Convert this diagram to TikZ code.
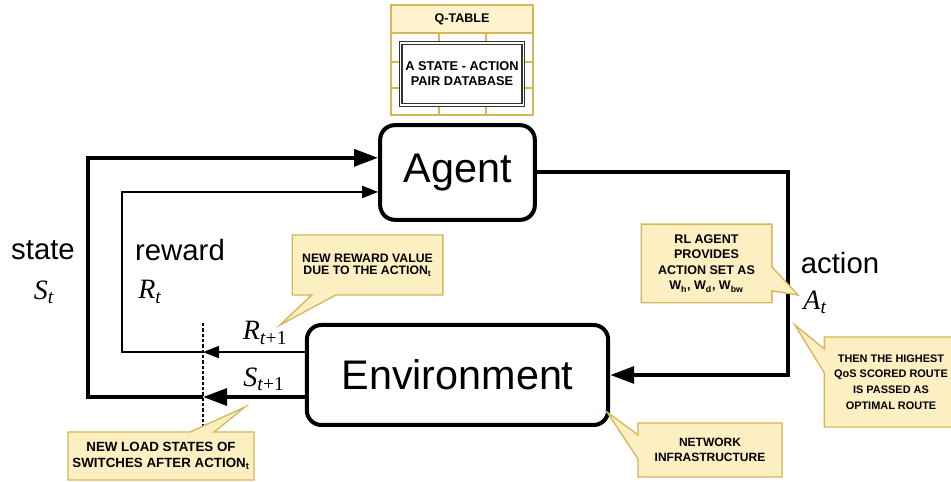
\documentclass[tikz,border=0pt]{standalone}
\usepackage{fontspec}
\setmainfont{Liberation Sans}
\newfontfamily\symfont{Liberation Serif}
\usetikzlibrary{positioning,arrows.meta,shapes.callouts,shadows}

\definecolor{noteyellow}{HTML}{FCEFC2}
\definecolor{noteedge}{HTML}{D6B656}
\definecolor{qfill}{HTML}{FFF2CC}

\tikzset{
  block/.style={draw, line width=3pt, rounded corners=11pt, fill=white,
    font=\fontsize{31}{36}\selectfont,
    drop shadow={opacity=0.3, shadow xshift=1pt, shadow yshift=-1.5pt}},
  thick flow/.style={line width=3pt, -{Triangle[length=18pt,width=12.5pt]}},
  thin flow/.style={line width=1.3pt, -{Triangle[length=12pt,width=9pt]}},
  cut line/.style={line width=0.9pt, dash pattern=on 2.5pt off 1.5pt},
  word/.style={font=\fontsize{22}{26}\selectfont},
  sym/.style={font=\symfont\itshape\fontsize{21}{24}\selectfont},
  callout box/.style={rectangle callout, draw=noteedge, fill=noteyellow,
    line width=1pt, align=center, callout pointer width=18pt,
    font=\bfseries\fontsize{9.4}{11.6}\selectfont},
  qhead/.style={draw=noteedge, line width=1.3pt, fill=qfill,
    minimum width=106.5pt, minimum height=21pt,
    font=\bfseries\fontsize{9.4}{11}\selectfont},
  qline/.style={draw=noteedge, line width=1.3pt},
  dbbox/.style={draw=black!80, double=white, double distance=0.8pt,
    line width=1pt, fill=white, align=center,
    minimum width=91.5pt, minimum height=46.5pt,
    font=\bfseries\fontsize{9.6}{11.2}\selectfont}
}

\begin{document}
\begin{tikzpicture}[x=0.75pt, y=0.75pt]

\useasboundingbox [fill=white] (0,0) rectangle (951,482);

% q-table
\draw [qline, fill=white] (391,449) rectangle (533,367);
\foreach \x in {439,486}
  \draw [qline] (\x,449) -- (\x,367);
\foreach \y in {420,394}
  \draw [qline] (391,\y) -- (533,\y);
\node [qhead] (qtable) at (462,463) {Q-TABLE};
\node [dbbox] (database) at (462,408) {A STATE - ACTION\\PAIR DATABASE};

% agent and environment
\node [block, minimum width=116pt, minimum height=71pt] (agent) at (457.5,309.5) {Agent};
\node [block, minimum width=226pt, minimum height=75pt] (env) at (457.5,107) {Environment};

\coordinate (s-in) at ([yshift=11pt]agent.west);
\coordinate (r-in) at ([yshift=-14.6pt]agent.west);
\coordinate (s-out) at ([yshift=-16.5pt]env.west);
\coordinate (r-out) at ([yshift=17.2pt]env.west);
\coordinate (cut) at (203,159);
\coordinate (cut-end) at (203,55);
\coordinate (s-side) at (88,0);
\coordinate (r-side) at (122,0);
\coordinate (a-side) at (788,0);

\draw [thick flow] (s-out) -- (s-out -| cut);
\draw [thick flow] (s-out -| cut) -| (s-side |- s-in) -- (s-in);
\draw [thin flow] (r-out) -- (r-out -| cut);
\draw [thin flow] (r-out -| cut) -| (r-side |- r-in) -- (r-in);
\draw [thick flow] (agent.east) -| (a-side |- env.east) -- (env.east);
\draw [cut line] (cut) -- (cut-end);

% labels
\node [word] (state) at (43,232) {state};
\node [sym] (s-t) at (44,190) {S\textsubscript{t}};
\node [word] (reward) at (180,232) {reward};
\node [sym] (r-t) at (150,190) {R\textsubscript{t}};
\node [word] (action) at (840,219) {action};
\node [sym] (a-t) at (815,180) {A\textsubscript{t}};
\node [sym] (r-next) at (265,149) {R\textsubscript{t\textup{+1}}};
\node [sym] (s-next) at (264,103) {S\textsubscript{t\textup{+1}}};

% notes
\node [callout box, minimum width=113pt, minimum height=45pt,
  font=\bfseries\fontsize{9.2}{9.2}\selectfont,
  callout absolute pointer={(280,157)}] (reward-note) at (367.5,217)
  {NEW REWARD VALUE\\DUE TO THE ACTION\textsubscript{t}};
\node [callout box, minimum width=98pt, minimum height=59pt,
  callout absolute pointer={(798,187)}] (action-note) at (706.5,218.5)
  {RL AGENT\\PROVIDES\\ACTION SET AS\\W\textsubscript{h}, W\textsubscript{d}, W\textsubscript{bw}};
\node [callout box, minimum width=100pt, minimum height=67.5pt,
  font=\bfseries\fontsize{8.2}{11.7}\selectfont,
  callout absolute pointer={(795,157)}] (route-note) at (891,100)
  {THEN THE HIGHEST\\QoS SCORED ROUTE\\IS PASSED AS\\OPTIMAL ROUTE};
\node [callout box, minimum width=136.5pt, minimum height=36pt,
  font=\bfseries\fontsize{10}{12.5}\selectfont,
  callout absolute pointer={(245,75)}] (load-note) at (161,26)
  {NEW LOAD STATES OF\\SWITCHES AFTER ACTION\textsubscript{t}};
\node [callout box, minimum width=108pt, minimum height=40.5pt,
  font=\bfseries\fontsize{9}{11.3}\selectfont,
  callout absolute pointer={(607,70)}] (net-note) at (710,32)
  {NETWORK\\INFRASTRUCTURE};

\end{tikzpicture}
\end{document}
